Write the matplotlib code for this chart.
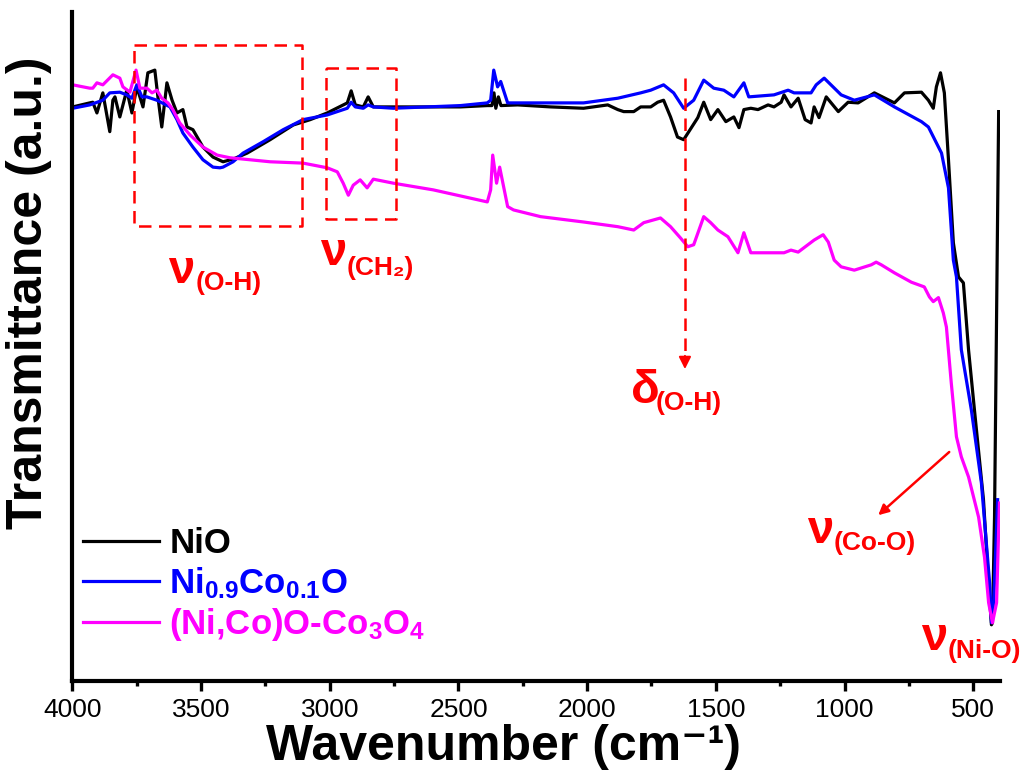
import numpy as np
import matplotlib
matplotlib.use("Agg")
import matplotlib.pyplot as plt

plt.rcParams['font.family'] = ['Liberation Sans', 'DejaVu Sans']
plt.rcParams['mathtext.default'] = 'regular'

# NiO
wn_nio = [3999, 3933, 3921, 3905, 3882, 3855, 3843, 3835, 3816, 3789, 3769, 3750, 3726, 3707,
          3680, 3668, 3653, 3633, 3613, 3594, 3571, 3555, 3532, 3493, 3454, 3415, 3376, 3321,
          3232, 3142, 3076, 3010, 2932, 2917, 2901, 2870, 2851, 2831, 2492, 2388, 2370, 2362,
          2355, 2345, 2335, 2270, 2142, 2014, 1920, 1881, 1858, 1819, 1792, 1753, 1726, 1703,
          1676, 1649, 1625, 1605, 1570, 1547, 1520, 1492, 1461, 1430, 1410, 1391, 1364, 1336,
          1297, 1274, 1246, 1235, 1208, 1180, 1153, 1130, 1118, 1099, 1071, 1024, 986, 947,
          884, 806, 767, 701, 674, 655, 643, 627, 612, 596, 577, 557, 553, 538, 518, 495, 460,
          440, 429, 425, 417, 401]
t_nio = [85.8, 86.4, 86.5, 84.9, 87.9, 82.1, 86.8, 87.3, 84.3, 88.3, 84.9, 88.8, 85.8, 90.9,
         91.3, 87.3, 82.8, 89.4, 86.8, 84.9, 85.4, 82.8, 82.4, 79.8, 78.3, 77.6, 78.0, 78.9,
         80.9, 83.1, 83.9, 84.9, 86.4, 88.2, 86.1, 85.8, 87.3, 85.8, 85.8, 86.0, 86.0, 87.9,
         85.6, 87.3, 86.0, 86.1, 85.8, 85.6, 86.1, 85.4, 85.1, 85.1, 85.8, 85.8, 86.5, 86.8,
         84.3, 81.3, 80.9, 82.1, 84.2, 86.5, 83.9, 85.4, 83.6, 84.3, 82.7, 85.4, 85.6, 85.4,
         86.1, 85.8, 86.5, 87.6, 85.8, 87.1, 83.9, 83.4, 85.8, 84.2, 87.3, 85.1, 86.5, 86.4,
         87.9, 86.4, 87.9, 88.0, 86.8, 85.6, 88.8, 90.9, 87.9, 77.9, 65.5, 60.4, 60.2, 59.5,
         49.5, 40.5, 27.1, 14.6, 8.4, 8.7, 24.5, 85.1]

# Ni0.9Co0.1O
wn_nico = [3999, 3933, 3882, 3855, 3816, 3789, 3769, 3750, 3730, 3711, 3672, 3621, 3594, 3571,
           3532, 3493, 3454, 3427, 3415, 3376, 3337, 3259, 3181, 3104, 3010, 2932, 2917, 2901,
           2870, 2851, 2831, 2753, 2492, 2388, 2375, 2363, 2348, 2336, 2309, 2270, 2014, 1881,
           1792, 1753, 1703, 1664, 1625, 1586, 1547, 1508, 1469, 1430, 1391, 1372, 1274, 1219,
           1196, 1130, 1110, 1079, 1013, 962, 884, 806, 701, 674, 623, 596, 577, 565, 546, 507,
           468, 436, 429, 420, 405]
t_nico = [85.6, 86.1, 86.8, 87.9, 88.0, 87.6, 87.1, 89.1, 87.3, 87.3, 86.8, 85.8, 83.9, 81.9,
          79.8, 77.9, 76.8, 76.7, 76.8, 77.6, 78.9, 80.6, 82.4, 83.9, 84.6, 85.6, 86.5, 85.8,
          85.6, 86.1, 85.8, 85.6, 86.0, 86.4, 86.8, 91.3, 88.8, 89.6, 86.4, 86.4, 86.4, 87.1,
          87.9, 88.3, 89.1, 87.9, 85.6, 86.8, 89.8, 88.6, 88.3, 87.3, 89.4, 87.3, 87.6, 88.3,
          87.9, 87.9, 89.1, 90.1, 87.6, 86.8, 87.6, 85.8, 83.6, 82.8, 78.9, 73.7, 62.9, 60.4,
          49.5, 40.5, 29.6, 14.6, 8.7, 12.1, 27.1]

# (Ni,Co)O-Co3O4
wn_mix = [3999, 3933, 3921, 3905, 3882, 3843, 3816, 3804, 3777, 3753, 3738, 3711, 3691, 3672,
          3653, 3629, 3610, 3583, 3543, 3493, 3438, 3388, 3310, 3232, 3104, 3010, 2971, 2948,
          2928, 2909, 2882, 2855, 2831, 2753, 2598, 2388, 2375, 2367, 2352, 2340, 2309, 2286,
          2181, 2014, 1881, 1819, 1780, 1715, 1676, 1637, 1609, 1586, 1547, 1520, 1492, 1453,
          1414, 1391, 1364, 1235, 1208, 1180, 1118, 1083, 1063, 1040, 1013, 962, 896, 877, 857,
          806, 740, 690, 670, 655, 635, 616, 604, 585, 565, 546, 518, 479, 456, 440, 425, 409,
          398]
t_mix = [89.1, 88.6, 88.6, 89.4, 89.1, 90.6, 90.1, 88.8, 88.0, 91.3, 88.6, 88.6, 87.9, 88.3,
         87.1, 86.4, 85.4, 83.4, 81.6, 79.8, 78.6, 78.2, 77.9, 77.6, 77.4, 76.7, 76.1, 74.4,
         72.6, 74.1, 74.9, 73.7, 75.0, 74.4, 73.4, 71.6, 73.4, 78.6, 74.4, 76.8, 70.9, 70.4,
         69.4, 68.6, 67.9, 67.4, 68.5, 69.2, 67.9, 66.2, 64.9, 65.2, 69.4, 68.5, 67.4, 66.4,
         64.0, 67.0, 64.0, 64.0, 64.4, 64.1, 65.9, 66.7, 65.6, 62.9, 61.9, 61.4, 62.2, 62.6,
         62.2, 61.0, 59.6, 58.9, 57.4, 56.7, 57.3, 55.0, 52.9, 44.5, 36.5, 33.5, 30.5, 24.5,
         18.5, 11.7, 8.7, 11.7, 26.6]

fig = plt.figure(figsize=(10.28, 7.78), dpi=100)
ax = fig.add_axes([0.0705, 0.1247, 0.9027, 0.86])

ax.plot(wn_nio, t_nio, color='black', lw=2.3, label='NiO')
ax.plot(wn_nico, t_nico, color='#0000ff', lw=2.3, label=r'Ni$_{0.9}$Co$_{0.1}$O')
ax.plot(wn_mix, t_mix, color='#ff00ff', lw=2.3, label=r'(Ni,Co)O-Co$_3$O$_4$')

ax.set_xlim(4000, 394)
ax.set_ylim(0, 100)
ax.set_xticks([4000, 3500, 3000, 2500, 2000, 1500, 1000, 500])
ax.set_xticks(np.arange(3750, 400, -500), minor=True)
ax.set_yticks([])
for s in ['top', 'right']:
    ax.spines[s].set_visible(False)
for s in ['left', 'bottom']:
    ax.spines[s].set_linewidth(3)
ax.tick_params(axis='x', which='major', length=7, width=2.4, labelsize=19, pad=5)
ax.tick_params(axis='x', which='minor', length=3.5, width=2.4)

ax.set_xlabel('Wavenumber (cm⁻¹)', fontsize=36, fontweight='bold')
ax.set_ylabel('Transmittance (a.u.)', fontsize=36, fontweight='bold')
ax.xaxis.set_label_coords(0.465, -0.064)
ax.yaxis.set_label_coords(-0.022, 0.58)

leg = ax.legend(loc='lower left', bbox_to_anchor=(-0.004, 0.036), frameon=False,
                prop={'size': 25, 'weight': 'bold'}, handlelength=2.2,
                handletextpad=0.3, labelspacing=0.15, borderaxespad=0)
for txt, ln in zip(leg.get_texts(), leg.get_lines()):
    txt.set_color(ln.get_color())

# dashed boxes
red = '#ff0000'
dash = (0, (5, 3))
ax.plot([3761, 3107, 3107, 3761, 3761], [95.1, 95.1, 68.0, 68.0, 95.1], color=red, lw=1.8, ls=dash)
ax.plot([3014, 2741, 2741, 3014, 3014], [91.6, 91.6, 69.1, 69.1, 91.6], color=red, lw=1.8, ls=dash)

# delta(O-H) arrow
ax.plot([1620, 1620], [90.1, 48.5], color=red, lw=1.8, ls=dash)
ax.annotate('', xy=(1620, 46.2), xytext=(1620, 49.0),
            arrowprops=dict(arrowstyle='-|>', color=red, lw=1.5, mutation_scale=18))
# Co-O arrow
ax.annotate('', xy=(877, 24.5), xytext=(585, 34.5),
            arrowprops=dict(arrowstyle='-|>', color=red, lw=1.8, mutation_scale=15))

bands = [('ν', '(O-H)', 3629, 59.5, 3523, 58.4),
         ('ν', '(CH₂)', 3037, 62.2, 2936, 60.7),
         ('δ', '(O-H)', 1829, 41.6, 1733, 40.5),
         ('ν', '(Co-O)', 1145, 20.6, 1044, 19.6),
         ('ν', '(Ni-O)', 701, 4.6, 599, 3.4)]
for sym, sub, x1, y1, x2, y2 in bands:
    ax.text(x1, y1, sym, color=red, fontsize=34, fontweight='bold', ha='left', va='baseline')
    ax.text(x2, y2, sub, color=red, fontsize=19, fontweight='bold', ha='left', va='baseline')

plt.savefig('out.png', dpi=100)
